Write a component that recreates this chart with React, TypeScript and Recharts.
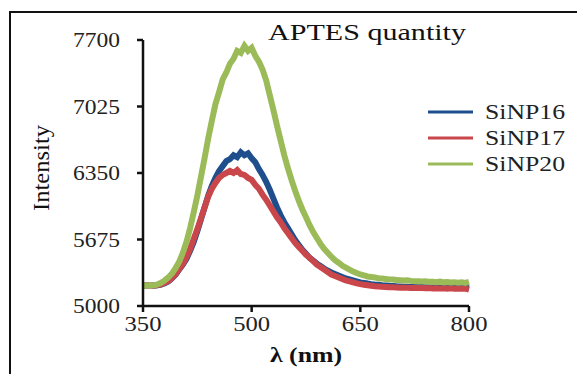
import React from "react";
import { LineChart, Line, XAxis, YAxis, Legend } from "recharts";

// wavelength grid, 350..800 nm every 5 nm
const wavelengths = Array.from({ length: 91 }, (_, i) => 350 + i * 5);

const sinp16 = [
    5210, 5205, 5212, 5205, 5210, 5218, 5232, 5250, 5280, 5320,
    5370, 5420, 5480, 5560, 5650, 5760, 5880, 6000, 6120, 6220,
    6300, 6370, 6420, 6470, 6490, 6530, 6510, 6560, 6530, 6550,
    6500, 6460, 6390, 6330, 6260, 6180, 6090, 6000, 5920, 5850,
    5790, 5730, 5670, 5620, 5570, 5530, 5490, 5460, 5430, 5405,
    5380, 5360, 5340, 5325, 5310, 5295, 5280, 5270, 5260, 5250,
    5240, 5235, 5228, 5222, 5218, 5215, 5210, 5208, 5205, 5203,
    5200, 5198, 5196, 5195, 5192, 5194, 5190, 5192, 5188, 5190,
    5186, 5190, 5185, 5188, 5184, 5187, 5183, 5186, 5182, 5185,
    5180,
];

const sinp17 = [
    5212, 5208, 5210, 5206, 5212, 5220, 5235, 5255, 5285, 5325,
    5375, 5430, 5495, 5580, 5680, 5780, 5890, 6000, 6110, 6190,
    6250, 6300, 6330, 6350, 6370, 6350, 6380, 6340, 6330, 6300,
    6280, 6230, 6190, 6130, 6080, 6020, 5960, 5900, 5850, 5790,
    5740, 5690, 5640, 5600, 5560, 5520, 5490, 5455, 5420, 5395,
    5370, 5345, 5320, 5305, 5290, 5275, 5260, 5250, 5240, 5230,
    5222, 5215, 5210, 5205, 5200, 5198, 5195, 5193, 5190, 5190,
    5188, 5186, 5185, 5186, 5183, 5184, 5182, 5183, 5180, 5182,
    5178, 5181, 5177, 5180, 5176, 5179, 5175, 5178, 5174, 5176,
    5165,
];

const sinp20 = [
    5215, 5205, 5212, 5208, 5220, 5235, 5260, 5290, 5330, 5385,
    5450, 5540, 5650, 5790, 5950, 6120, 6310, 6500, 6700, 6880,
    7050, 7170, 7300, 7370, 7460, 7510, 7590, 7570, 7640, 7590,
    7620, 7540, 7480, 7400, 7290, 7140, 6990, 6830, 6680, 6530,
    6400, 6280, 6170, 6070, 5980, 5900, 5820, 5750, 5690, 5630,
    5580, 5540, 5500, 5465, 5440, 5410, 5390, 5370, 5350, 5335,
    5320, 5310, 5300, 5295, 5290, 5282, 5280, 5275, 5270, 5268,
    5265, 5262, 5258, 5260, 5255, 5252, 5250, 5248, 5252, 5245,
    5246, 5242, 5248, 5240, 5244, 5238, 5242, 5236, 5240, 5235,
    5245,
];

const xTicks = [350, 500, 650, 800];
const yTicks = [5000, 5675, 6350, 7025, 7700];

const series = [
    { key: "SiNP16", values: sinp16, color: "#1f4e8c" },
    { key: "SiNP17", values: sinp17, color: "#c9474a" },
    { key: "SiNP20", values: sinp20, color: "#9bbb59" },
];

const data = wavelengths.map((wl, i) => {
    const row: any = { wl };
    series.forEach((s) => (row[s.key] = s.values[i]));
    return row;
});

const serif = "'Liberation Serif', 'Times New Roman', serif";

const YTick = (props: any) => {
    const { x, y, payload } = props;
    return (
        <text x={x} y={y} dy={7} textAnchor="end" fontFamily={serif} fontSize={20}
            fill="#222" textLength={47} lengthAdjust="spacingAndGlyphs">
            {payload.value}
        </text>
    );
};

const XTick = (props: any) => {
    const { x, y, payload } = props;
    return (
        <text x={x} y={y} dy={19} textAnchor="middle" fontFamily={serif} fontSize={20}
            fill="#222" textLength={37} lengthAdjust="spacingAndGlyphs">
            {payload.value}
        </text>
    );
};

const renderLegend = (props: any) => {
    const { payload } = props;
    // keep legend in series order
    const items = series.map((s) => payload.find((p: any) => p.value === s.key) || { value: s.key, color: s.color });
    return (
        <svg width={150} height={80}>
            {items.map((p: any, i: number) => (
                <g key={p.value}>
                    <line x1={0} x2={45} y1={12 + i * 26} y2={12 + i * 26} stroke={p.color} strokeWidth={3} />
                    <text x={57} y={19 + i * 26} fontFamily={serif} fontSize={21} fill="#222"
                        textLength={80} lengthAdjust="spacingAndGlyphs">
                        {p.value}
                    </text>
                </g>
            ))}
        </svg>
    );
};

export default function App() {
    return (
        <div style={{ position: "relative", width: 577, height: 374, overflow: "hidden", background: "#fff" }}>
            <style>{"body{margin:0}"}</style>
            <LineChart width={577} height={374} data={data}
                margin={{ top: 40, right: 108, bottom: 0, left: 0 }}>
                <XAxis dataKey="wl" type="number" domain={[350, 800]} ticks={xTicks}
                    height={68} axisLine={{ stroke: "#111", strokeWidth: 2.5 }}
                    tickLine={{ stroke: "#111", strokeWidth: 2.5 }} tickSize={6} tickMargin={0}
                    tick={XTick} />
                <YAxis type="number" domain={[5000, 7700]} ticks={yTicks} width={143}
                    axisLine={{ stroke: "#111", strokeWidth: 2.5 }}
                    tickLine={{ stroke: "#111", strokeWidth: 2.5 }} tickSize={6} tickMargin={17}
                    tick={YTick} />
                {series.map((s) => (
                    <Line key={s.key} dataKey={s.key} stroke={s.color} strokeWidth={6}
                        strokeLinejoin="miter" dot={false} type="linear" isAnimationActive={false} />
                ))}
                <Legend content={renderLegend} layout="horizontal" verticalAlign="middle" align="center"
                    wrapperStyle={{ position: "absolute", left: 428, top: 100, width: 150, height: 80 }} />
            </LineChart>
            <svg width={577} height={374} style={{ position: "absolute", left: 0, top: 0, pointerEvents: "none" }}>
                <text x={268} y={40} fontFamily={serif} fontSize={23} fill="#111"
                    textLength={198} lengthAdjust="spacingAndGlyphs">APTES quantity</text>
                <text x={306} y={362} textAnchor="middle" fontFamily={serif} fontSize={20}
                    fontWeight="bold" fill="#111" textLength={72} lengthAdjust="spacingAndGlyphs">λ (nm)</text>
                <text x={0} y={0} textAnchor="middle" fontFamily={serif} fontSize={24} fill="#111"
                    transform="translate(49,168) rotate(-90)" textLength={86}
                    lengthAdjust="spacingAndGlyphs">Intensity</text>
            </svg>
            <div style={{ position: "absolute", left: 9, top: 11, width: 620, height: 420,
                border: "2.5px solid #111", pointerEvents: "none" }} />
        </div>
    );
}
